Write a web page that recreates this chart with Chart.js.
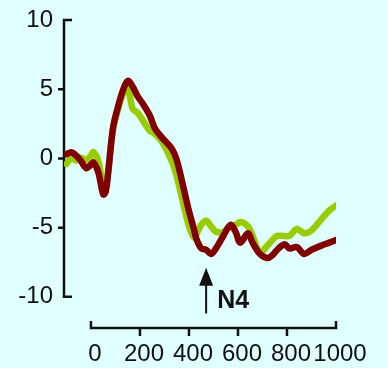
<!DOCTYPE html>
<html>
<head>
<meta charset="utf-8">
<script src="https://cdn.jsdelivr.net/npm/chart.js@4"></script>
<style>
  html, body { margin: 0; padding: 0; background: #e0ffff; }
  canvas { display: block; }
</style>
</head>
<body>
<canvas id="erp" width="388" height="368"></canvas>
<script>
// time in ms
const times = [-100, -80, -60, -40, -20, 0, 10, 30, 50, 60, 70, 90, 110, 130, 150, 170, 190, 210, 240, 260,
  290, 330, 350, 380, 400, 420, 430, 450, 470, 490, 510, 540, 570, 590, 610, 640, 660, 690, 720, 740,
  760, 790, 810, 840, 870, 900, 940, 970, 1000];

// amplitude in microvolts
const redWave = [0.3, 0.45, 0.2, -0.2, -0.7, -0.45, -0.3, -1.0, -2.6, -2.4, -1.1, 2.2, 3.7, 4.9, 5.6, 5.2, 4.5, 4.0, 3.1, 2.2,
  1.5, 0.7, -0.1, -2.3, -3.8, -5.1, -5.8, -6.5, -6.6, -6.9, -6.5, -5.6, -4.8, -5.3, -6.1, -5.4, -6.1, -6.9, -7.2, -7.0,
  -6.6, -6.2, -6.5, -6.4, -6.9, -6.6, -6.3, -6.1, -5.9];

const greenWave = [-0.4, 0.0, -0.15, 0.05, -0.1, 0.2, 0.45, -0.2, -2.0, -2.1, -0.9, 2.1, 3.5, 4.6, 5.1, 3.6, 3.3, 2.8, 2.0, 1.8,
  1.2, -0.2, -1.3, -3.5, -4.9, -5.7, -5.5, -4.8, -4.5, -4.9, -5.3, -5.3, -4.9, -4.8, -4.6, -4.9, -5.6, -6.8, -6.3, -5.9,
  -5.6, -5.6, -5.6, -5.1, -5.4, -5.2, -4.4, -3.8, -3.4];

const xTicks = [0, 200, 400, 600, 800, 1000];
const yTicks = [-10, -5, 0, 5, 10];

// N4 marker
const peakTime = 470;
const peakLabel = 'N4';
const arrowFrom = -11.2;
const arrowTo = -7.9;

const ink = '#111111';
const tickFont = { family: 'Liberation Sans, Arial, sans-serif', size: 24 };

function toPoints(values) {
  return times.map((t, i) => ({ x: t, y: values[i] }));
}

// bracket style axes plus the N4 arrow
const axesPlugin = {
  id: 'bracketAxes',
  beforeDatasetsDraw(chart) {
    const { ctx, scales: { x, y } } = chart;
    ctx.save();
    ctx.strokeStyle = ink;
    ctx.lineWidth = 2.5;
    ctx.lineCap = 'butt';

    // y axis
    const ax = chart.chartArea.left;
    const yTop = y.getPixelForValue(yTicks[yTicks.length - 1]);
    const yBot = y.getPixelForValue(yTicks[0]);
    ctx.beginPath();
    ctx.moveTo(ax + 8, yTop);
    ctx.lineTo(ax, yTop);
    ctx.lineTo(ax, yBot);
    ctx.lineTo(ax + 8, yBot);
    yTicks.slice(1, -1).forEach((v) => {
      const py = y.getPixelForValue(v);
      ctx.moveTo(ax, py);
      ctx.lineTo(ax - 6, py);
    });
    ctx.stroke();

    // x axis
    const ay = chart.chartArea.bottom;
    const xL = x.getPixelForValue(xTicks[0]);
    const xR = x.getPixelForValue(xTicks[xTicks.length - 1]);
    ctx.beginPath();
    ctx.moveTo(xL, ay - 7);
    ctx.lineTo(xL, ay);
    ctx.lineTo(xR, ay);
    ctx.lineTo(xR, ay - 7);
    xTicks.slice(1, -1).forEach((v) => {
      const px = x.getPixelForValue(v);
      ctx.moveTo(px, ay);
      ctx.lineTo(px, ay + 8);
    });
    ctx.stroke();
    ctx.restore();
  },
  afterDatasetsDraw(chart) {
    const { ctx, scales: { x, y } } = chart;
    const px = x.getPixelForValue(peakTime);
    const top = y.getPixelForValue(arrowTo);
    const bottom = y.getPixelForValue(arrowFrom);
    ctx.save();
    ctx.strokeStyle = ink;
    ctx.fillStyle = ink;
    ctx.lineWidth = 2;
    ctx.beginPath();
    ctx.moveTo(px, bottom);
    ctx.lineTo(px, top + 10);
    ctx.stroke();
    ctx.beginPath();
    ctx.moveTo(px, top);
    ctx.lineTo(px - 7, top + 18);
    ctx.lineTo(px + 7, top + 18);
    ctx.closePath();
    ctx.fill();
    ctx.font = 'bold 25px Liberation Sans, Arial, sans-serif';
    ctx.textBaseline = 'alphabetic';
    ctx.fillText(peakLabel, px + 11, top + 40);
    ctx.restore();
  }
};

new Chart(document.getElementById('erp'), {
  type: 'line',
  data: {
    datasets: [
      {
        label: 'red',
        data: toPoints(redWave),
        borderColor: '#800000',
        borderWidth: 6.5,
        pointRadius: 0,
        tension: 0.35,
        fill: false
      },
      {
        label: 'green',
        data: toPoints(greenWave),
        borderColor: '#99cc00',
        borderWidth: 6.5,
        pointRadius: 0,
        tension: 0.35,
        fill: false
      }
    ]
  },
  options: {
    responsive: false,
    animation: false,
    layout: { autoPadding: false, padding: { top: 20, right: 52, bottom: 0, left: 0 } },
    plugins: { legend: { display: false }, tooltip: { enabled: false } },
    elements: { line: { borderCapStyle: 'round', borderJoinStyle: 'round' } },
    scales: {
      x: {
        type: 'linear',
        min: -110,
        max: 1000,
        border: { display: false },
        grid: { display: false, drawTicks: false },
        afterBuildTicks: (scale) => { scale.ticks = xTicks.map((v) => ({ value: v })); },
        afterFit: (scale) => { scale.height = 40; },
        ticks: {
          color: ink, font: tickFont, padding: 12, labelOffset: 4, maxRotation: 0, autoSkip: false,
          callback: (v) => String(v)
        }
      },
      y: {
        min: -12.25,
        max: 10,
        border: { display: false },
        grid: { display: false, drawTicks: false },
        afterBuildTicks: (scale) => { scale.ticks = yTicks.map((v) => ({ value: v })); },
        afterFit: (scale) => {
          scale.width = 64;
          scale.paddingTop = 0;
          scale.paddingBottom = 0;
        },
        ticks: { color: ink, font: tickFont, padding: 11, autoSkip: false }
      }
    }
  },
  plugins: [axesPlugin]
});
</script>
</body>
</html>
